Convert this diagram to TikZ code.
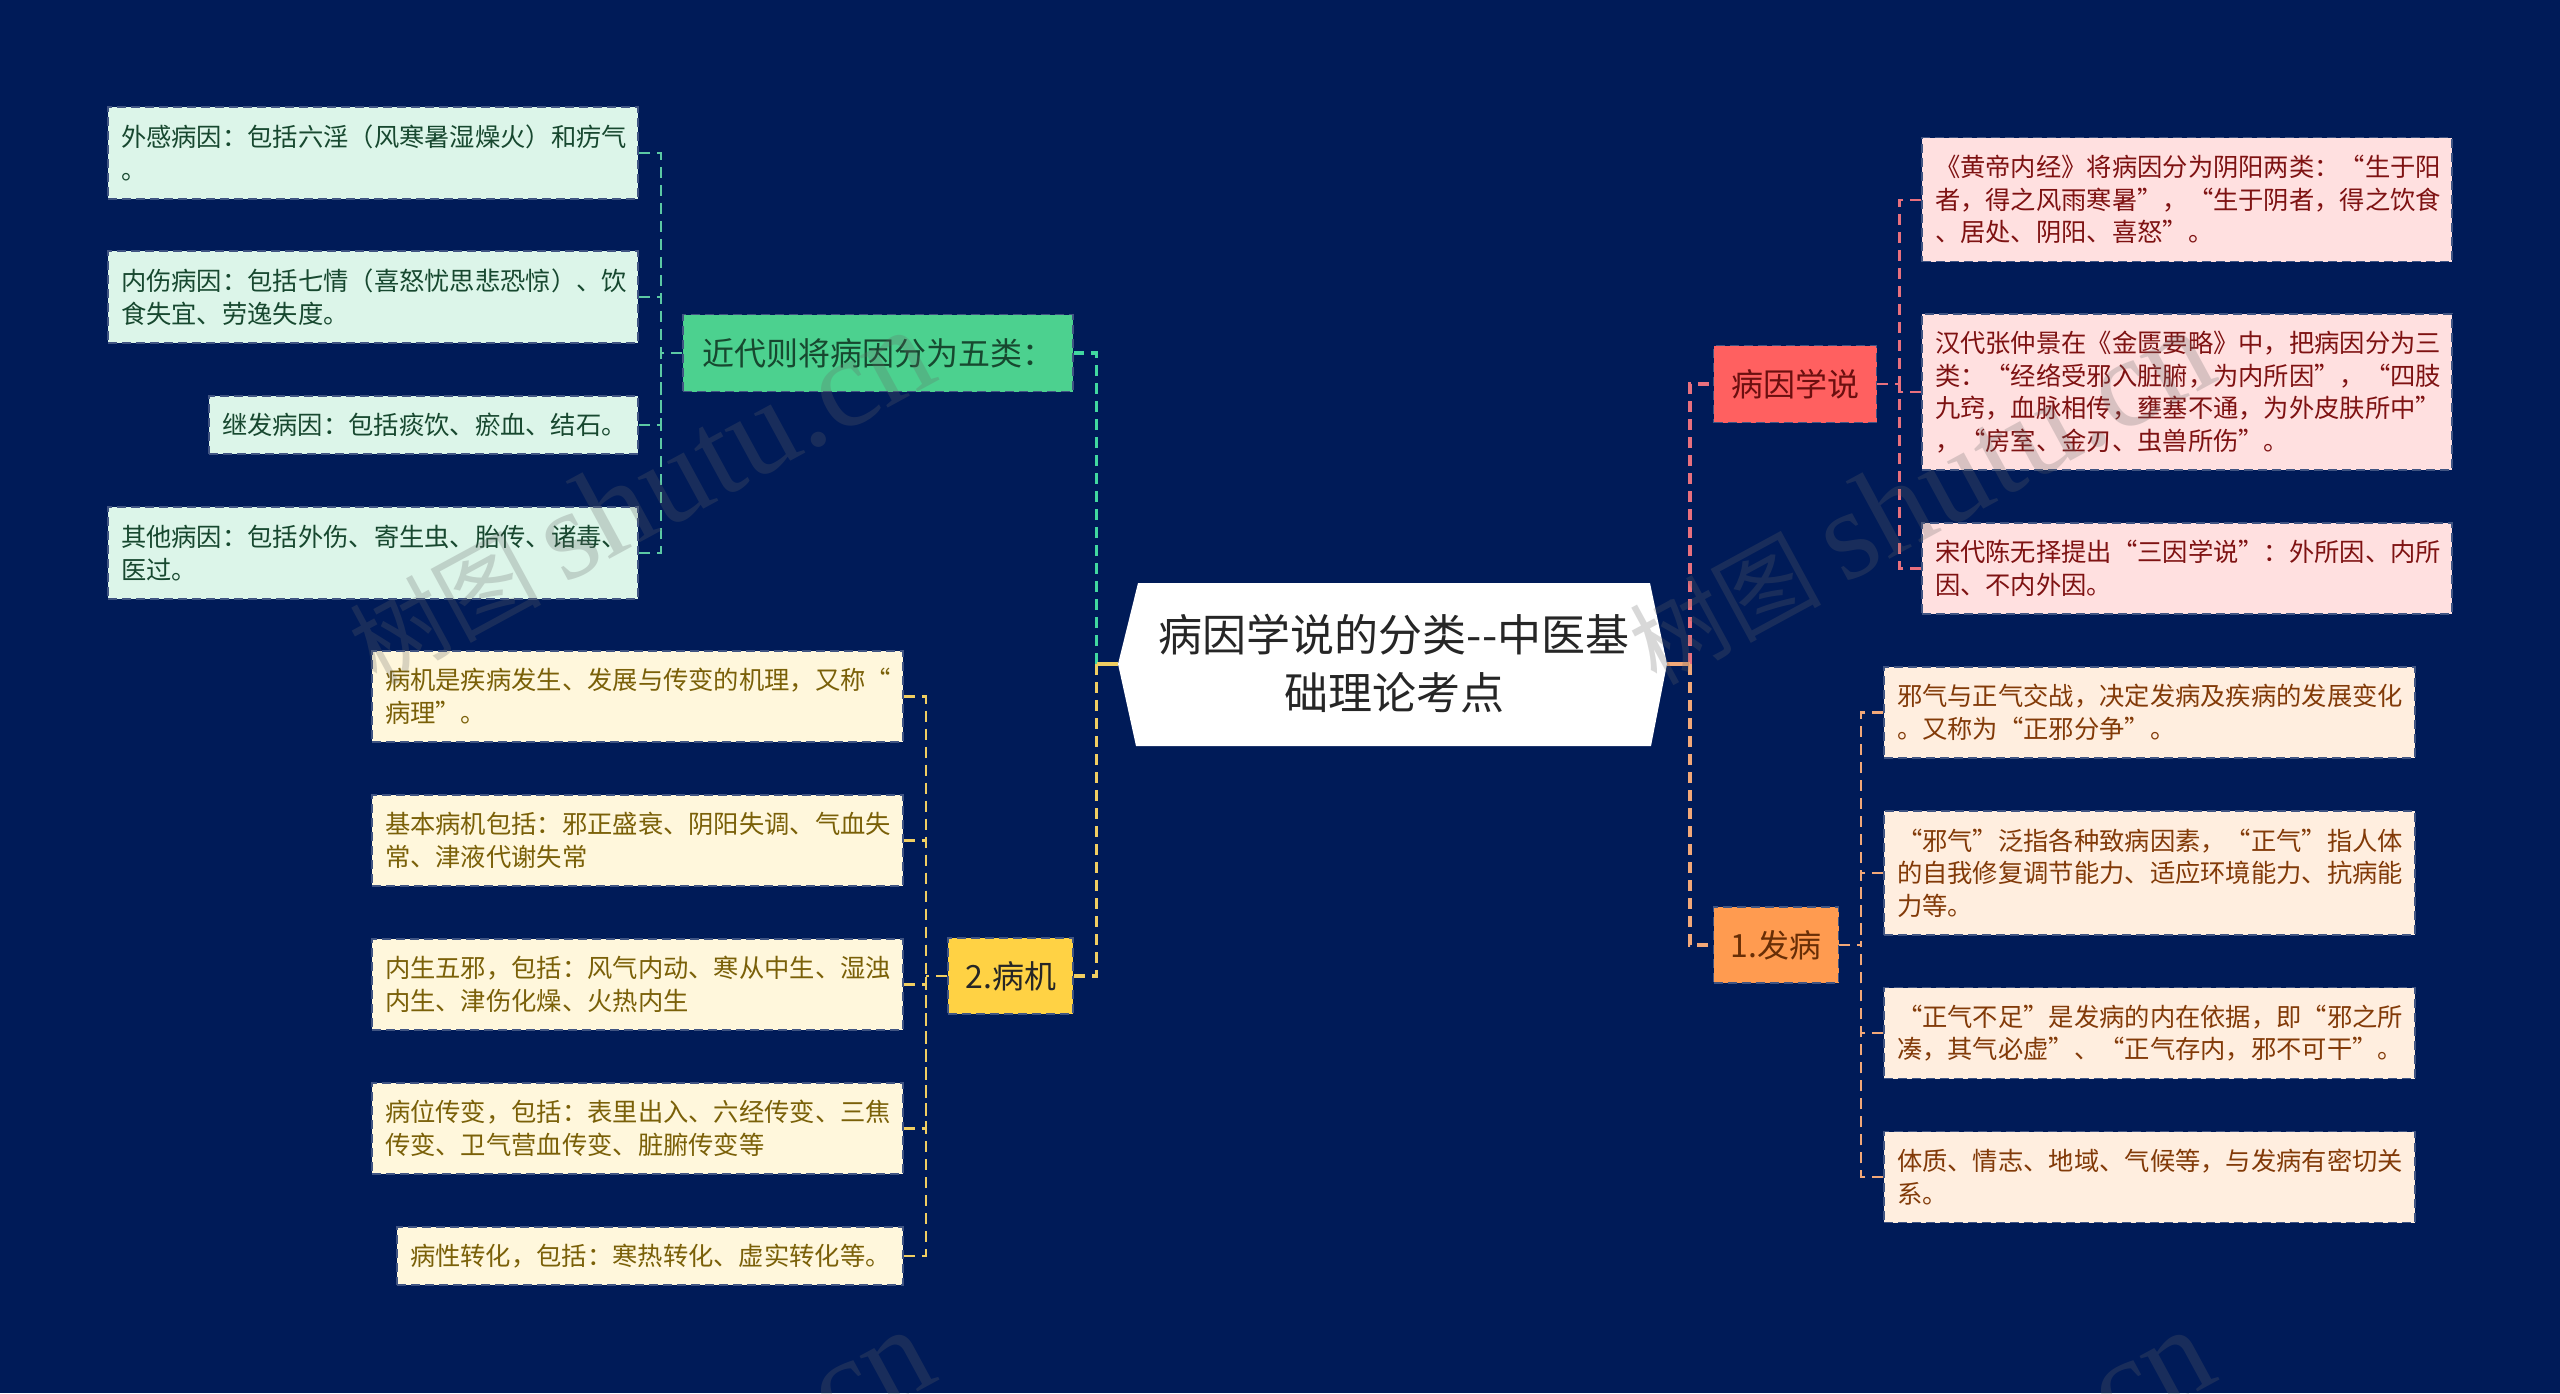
\documentclass[tikz,border=0pt]{standalone}
\usepackage{fontspec}
\setmainfont{Noto Sans CJK SC}
\newfontfamily\wmfont{Liberation Serif}
\usetikzlibrary{positioning}

\definecolor{bgcol}{HTML}{001B58}
\definecolor{greenbox}{HTML}{4CD18F}
\definecolor{greenleaf}{HTML}{DCF5E9}
\definecolor{greentext}{HTML}{17482F}
\definecolor{greenlink}{HTML}{5CC9A4}
\definecolor{redbox}{HTML}{FF6060}
\definecolor{redleaf}{HTML}{FFE0E0}
\definecolor{redtext}{HTML}{7E1212}
\definecolor{redlink}{HTML}{E8707E}
\definecolor{orangebox}{HTML}{FF9B50}
\definecolor{orangeleaf}{HTML}{FFEEDF}
\definecolor{orangetext}{HTML}{823A08}
\definecolor{orangelink}{HTML}{F2A878}
\definecolor{yellowbox}{HTML}{FFD244}
\definecolor{yellowleaf}{HTML}{FFF7DC}
\definecolor{yellowtext}{HTML}{7A6008}
\definecolor{yellowlink}{HTML}{F0CE62}

\tikzset{
  edge/.style={draw=bgcol!75!white, line width=1.5pt, dash pattern=on 9pt off 5pt},
  leaf/.style={edge, inner xsep=13pt, inner ysep=0pt, align=left, font=\fontsize{25.3}{32.6}\selectfont},
  topic/.style={edge, inner sep=0pt, align=center, font=\fontsize{32}{40}\selectfont},
  mainlink/.style={line width=3.5pt, dash pattern=on 11pt off 7pt},
  sublink/.style={line width=2.2pt, dash pattern=on 11pt off 7pt},
  wmark/.style={opacity=0.25, text=black!60, rotate=28.5, font=\fontsize{96}{96}\selectfont},
}

\begin{document}
\begin{tikzpicture}[x=1pt, y=-1pt]
\useasboundingbox (0,0) rectangle (2560,1393);
\fill[bgcol] (0,0) rectangle (2560,1393);

% Draw centre shape
\fill[white] (1118,664) -- (1138,583) -- (1650,583) -- (1667,664) -- (1651,746) -- (1136,746) -- cycle;
\node[align=center, text=black!85, font=\fontsize{44}{58}\selectfont] (root) at (1394,664) {病因学说的分类{-}{-}中医基\\础理论考点};
\coordinate (rootw) at (1118,664);
\coordinate (roote) at (1667,664);
\coordinate (trunkl) at (1096.5,664);
\coordinate (trunkr) at (1690,664);

% Draw topics
\node[topic, fill=greenbox, text=greentext, minimum width=390pt, minimum height=77pt] (modern) at (878,353) {近代则将病因分为五类：};
\node[topic, fill=yellowbox, text=black!85, minimum width=125pt, minimum height=76pt] (mech) at (1010.7,976) {2.病机};
\node[topic, fill=redbox, text=redtext!85!black, minimum width=163pt, minimum height=77pt] (cause) at (1795,384) {病因学说};
\node[topic, fill=orangebox, text=orangetext!80!black, minimum width=125pt, minimum height=76pt] (onset) at (1776,945) {1.发病};

% Draw leaves
\foreach \name/\x/\y/\w/\h/\txt in {
  m1/373/153/530/92/{外感病因：包括六淫（风寒暑湿燥火）和疠气\\。},
  m2/373/297/530/92/{内伤病因：包括七情（喜怒忧思悲恐惊）、饮\\食失宜、劳逸失度。},
  m3/423.5/425/429/58/{继发病因：包括痰饮、瘀血、结石。},
  m4/373/553/530/92/{其他病因：包括外伤、寄生虫、胎传、诸毒、\\医过。}}
  \node[leaf, fill=greenleaf, text=greentext, text width=\w pt-26pt, minimum height=\h pt] (\name) at (\x,\y) {\txt};

\foreach \name/\x/\y/\w/\h/\txt in {
  p1/637.5/696.5/531/91/{病机是疾病发生、发展与传变的机理，又称“\\病理”。},
  p2/637.5/840.5/531/91/{基本病机包括：邪正盛衰、阴阳失调、气血失\\常、津液代谢失常},
  p3/637.5/984.5/531/91/{内生五邪，包括：风气内动、寒从中生、湿浊\\内生、津伤化燥、火热内生},
  p4/637.5/1128.5/531/91/{病位传变，包括：表里出入、六经传变、三焦\\传变、卫气营血传变、脏腑传变等},
  p5/650/1256/506/58/{病性转化，包括：寒热转化、虚实转化等。}}
  \node[leaf, fill=yellowleaf, text=yellowtext, text width=\w pt-26pt, minimum height=\h pt] (\name) at (\x,\y) {\txt};

\foreach \name/\x/\y/\w/\h/\txt in {
  c1/2187/199.7/530/124/{《黄帝内经》将病因分为阴阳两类：“生于阳\\者，得之风雨寒暑”，“生于阴者，得之饮食\\、居处、阴阳、喜怒”。},
  c2/2187/392/530/156/{汉代张仲景在《金匮要略》中，把病因分为三\\类：“经络受邪入脏腑，为内所因”，“四肢\\九窍，血脉相传，壅塞不通，为外皮肤所中”\\，“房室、金刃、虫兽所伤”。},
  c3/2187/568.5/530/91/{宋代陈无择提出“三因学说”：外所因、内所\\因、不内外因。}}
  \node[leaf, fill=redleaf, text=redtext, text width=\w pt-26pt, minimum height=\h pt] (\name) at (\x,\y) {\txt};

\foreach \name/\x/\y/\w/\h/\txt in {
  o1/2149.5/712.4/531/91/{邪气与正气交战，决定发病及疾病的发展变化\\。又称为“正邪分争”。},
  o2/2149.5/873/531/124/{“邪气”泛指各种致病因素，“正气”指人体\\的自我修复调节能力、适应环境能力、抗病能\\力等。},
  o3/2149.5/1033/531/91/{“正气不足”是发病的内在依据，即“邪之所\\凑，其气必虚”、“正气存内，邪不可干”。},
  o4/2149.5/1177/531/91/{体质、情志、地域、气候等，与发病有密切关\\系。}}
  \node[leaf, fill=orangeleaf, text=orangetext, text width=\w pt-26pt, minimum height=\h pt] (\name) at (\x,\y) {\txt};

% Draw links
\draw[mainlink, greenbox!85!cyan] (trunkl) |- (modern.east);
\draw[mainlink, yellowlink] (trunkl) |- (mech.east);
\draw[mainlink, redlink] (trunkr) |- (cause.west);
\draw[mainlink, orangelink] (trunkr) |- (onset.west);
\draw[yellowlink, line width=3.5pt] (rootw) -- (trunkl);
\draw[orangelink, line width=3.5pt] (roote) -- (trunkr);

\coordinate (modernj) at (661,353);
\coordinate (mechj) at (925.7,976);
\coordinate (causej) at (1899.4,384);
\coordinate (onsetj) at (1861,945);

\draw[sublink, greenlink] (modern.west) -- (modernj);
\foreach \name in {m1,m2,m3,m4}
  \draw[sublink, greenlink] (\name.east) -| (modernj);
\draw[sublink, yellowlink] (mech.west) -- (mechj);
\foreach \name in {p1,p2,p3,p4,p5}
  \draw[sublink, yellowlink] (\name.east) -| (mechj);
\draw[sublink, redlink] (cause.east) -- (causej);
\foreach \name in {c1,c2,c3}
  \draw[sublink, redlink] (\name.west) -| (causej);
\draw[sublink, orangelink] (onset.east) -- (onsetj);
\foreach \name in {o1,o2,o3,o4}
  \draw[sublink, orangelink] (\name.west) -| (onsetj);

% Draw watermarks
\foreach \name/\x/\y in {w1/640/497, w2/1920/497, w3/640/1497, w4/1920/1497}
  \node[wmark] (\name) at (\x,\y) {树图 {\wmfont\fontsize{128}{128}\selectfont shutu.cn}};

\end{tikzpicture}
\end{document}
